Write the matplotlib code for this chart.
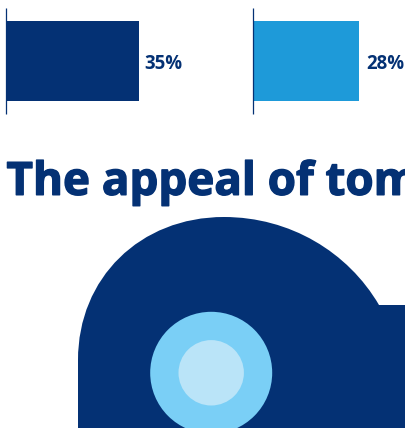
import matplotlib
matplotlib.use('Agg')
import matplotlib.pyplot as plt
import matplotlib.patheffects as pe
from matplotlib.patches import Circle, PathPatch, Rectangle
from matplotlib.path import Path

W, H = 405, 428
NAVY = '#043174'
BLUE = '#1e9ad9'

# Bar chart values
shares = [35, 28]
share_labels = ['35%', '28%']
bar_colors = [NAVY, BLUE]
baselines = [6, 253]
label_gaps = [5, 7.2]
px_per_point = 3.8

title = 'The appeal of tom'

fig = plt.figure(figsize=(W / 100, H / 100), dpi=100)
ax = fig.add_axes([0, 0, 1, 1])
ax.set_xlim(0, W)
ax.set_ylim(H, 0)
ax.axis('off')

for base, value, color, label, gap in zip(baselines, shares, bar_colors, share_labels, label_gaps):
    ax.add_patch(Rectangle((base, 21), value * px_per_point, 80, color=color, lw=0))
    ax.plot([base, base], [8, 114], color=NAVY, lw=0.9, solid_capstyle='butt')
    ax.text(base + value * px_per_point + gap, 69, label, color=NAVY, fontsize=13.4,
            fontweight='bold', family='Open Sans', va='baseline', ha='left')

# Slight stroke to thicken the bold weight
ax.text(6.5, 194.8, title, color=NAVY, fontsize=32.9, fontweight='bold', family='Open Sans',
        va='baseline', ha='left', clip_on=True,
        path_effects=[pe.withStroke(linewidth=1.0, foreground=NAVY)])

# Dome with a square block on its right
verts = [(78, 428), (78, 360), (78, 278), (140, 217), (224, 217),
         (290, 217), (348, 252), (379, 305), (405, 305), (405, 428), (78, 428)]
codes = [Path.MOVETO, Path.LINETO, Path.CURVE4, Path.CURVE4, Path.CURVE4,
         Path.CURVE4, Path.CURVE4, Path.CURVE4, Path.LINETO, Path.LINETO, Path.CLOSEPOLY]
ax.add_patch(PathPatch(Path(verts, codes), facecolor=NAVY, lw=0))

ax.add_patch(Circle((211.2, 372.8), 61, color='#7acff6', lw=0))
ax.add_patch(Circle((211.2, 372.8), 32.7, color='#bae4f8', lw=0))

fig.savefig('out.png', dpi=100)
